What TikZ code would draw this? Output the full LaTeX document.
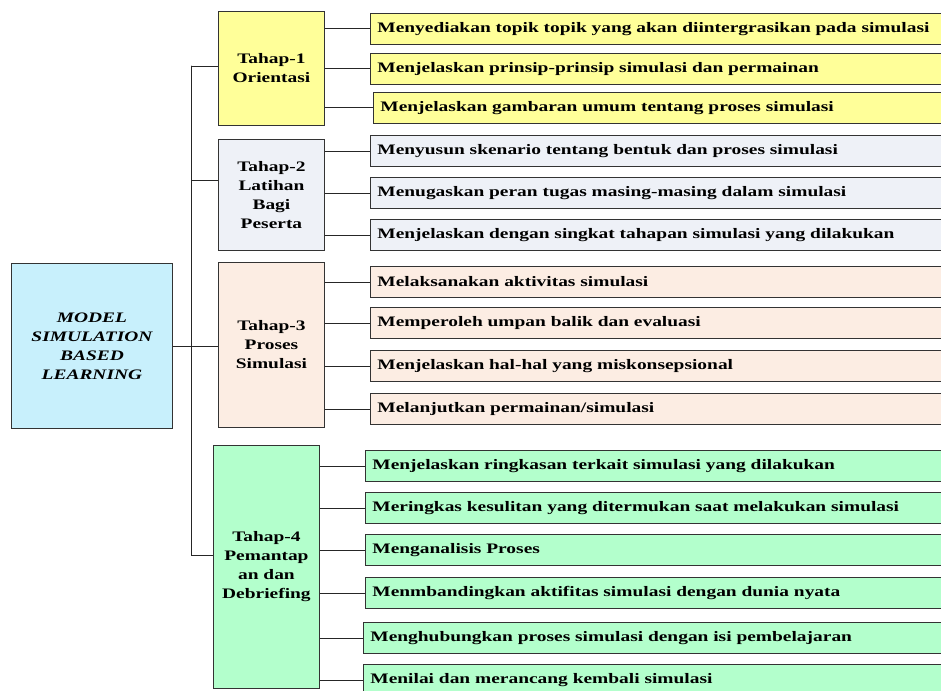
\documentclass[tikz,border=0pt]{standalone}
\usepackage{fontspec}
\setmainfont[FakeStretch=1.34]{Liberation Serif}
\usepackage{tkz-euclide}
\tikzset{>=stealth}
\definecolor{orikuning}{HTML}{FFFF99}
\definecolor{latabu}{HTML}{EEF1F7}
\definecolor{prosoranye}{HTML}{FCEDE3}
\definecolor{debhijau}{HTML}{B3FFCC}
\definecolor{modelbiru}{HTML}{C8F0FC}
\tikzset{
  box/.style={draw=black!80, line width=0.9pt, anchor=north west, inner sep=0pt,
    font=\fontsize{14.5}{19}\selectfont\bfseries},
  stagebox/.style={box, align=center, minimum width=106pt},
  itembox/.style={box, text width=580pt, align=left, inner xsep=7pt, minimum height=31pt},
  link/.style={line width=0.9pt, draw=black!85},
}

\begin{document}
\begin{tikzpicture}[x=1pt, y=-1pt]
    \useasboundingbox (0,0) rectangle (941,690);
    \node[box, align=center, fill=modelbiru, minimum width=161pt, minimum height=165pt,
      font=\fontsize{14.5}{19}\selectfont\bfseries\itshape] (model) at (11,263)
      {MODEL\\SIMULATION\\BASED\\LEARNING};
    \node[stagebox, fill=orikuning, minimum height=114pt] (t1) at (218,11) {Tahap-1\\Orientasi};
    \node[stagebox, fill=latabu, minimum height=111pt] (t2) at (218,139) {Tahap-2\\Latihan\\Bagi\\Peserta};
    \node[stagebox, fill=prosoranye, minimum height=165pt] (t3) at (218,262) {Tahap-3\\Proses\\Simulasi};
    \node[stagebox, fill=debhijau, minimum height=243pt] (t4) at (213,445) {Tahap-4\\Pemantap\\an dan\\Debriefing};
    % Tahap-1
    \node[itembox, fill=orikuning] (r1) at (370,13) {Menyediakan topik topik yang akan diintergrasikan pada simulasi};
    \node[itembox, fill=orikuning] (r2) at (370,53) {Menjelaskan prinsip-prinsip simulasi dan permainan};
    \node[itembox, fill=orikuning] (r3) at (373,92) {Menjelaskan gambaran umum tentang proses simulasi};
    % Tahap-2
    \node[itembox, fill=latabu] (r4) at (370,135) {Menyusun skenario tentang bentuk dan proses simulasi};
    \node[itembox, fill=latabu] (r5) at (370,177) {Menugaskan peran tugas masing-masing dalam simulasi};
    \node[itembox, fill=latabu] (r6) at (370,219) {Menjelaskan dengan singkat tahapan simulasi yang dilakukan};
    % Tahap-3
    \node[itembox, fill=prosoranye] (r7) at (370,266) {Melaksanakan aktivitas simulasi};
    \node[itembox, fill=prosoranye] (r8) at (370,307) {Memperoleh umpan balik dan evaluasi};
    \node[itembox, fill=prosoranye] (r9) at (370,350) {Menjelaskan hal-hal yang miskonsepsional};
    \node[itembox, fill=prosoranye] (r10) at (370,393) {Melanjutkan permainan/simulasi};
    % Tahap-4
    \node[itembox, fill=debhijau] (r11) at (365,450) {Menjelaskan ringkasan terkait simulasi yang dilakukan};
    \node[itembox, fill=debhijau] (r12) at (365,492) {Meringkas kesulitan yang ditermukan saat melakukan simulasi};
    \node[itembox, fill=debhijau] (r13) at (365,534) {Menganalisis Proses};
    \node[itembox, fill=debhijau] (r14) at (365,577) {Menmbandingkan aktifitas simulasi dengan dunia nyata};
    \node[itembox, fill=debhijau] (r15) at (363,622) {Menghubungkan proses simulasi dengan isi pembelajaran};
    \node[itembox, fill=debhijau] (r16) at (363,664) {Menilai dan merancang kembali simulasi};

    \tkzDefPoints{191/66/s1, 191/180/s2, 191/555/s4}
    \tkzDrawSegments[link](s1,s4)
    \draw[link] (s1) -- (s1 -| t1.west);
    \draw[link] (s2) -- (s2 -| t2.west);
    \draw[link] (model.east) -- (model.east -| t3.west);
    \draw[link] (s4) -- (s4 -| t4.west);
    \draw[link] (r1.west) -- (r1.west -| t1.east);
    \draw[link] (r2.west) -- (r2.west -| t1.east);
    \draw[link] (r3.west) -- (r3.west -| t1.east);
    \draw[link] (r4.west) -- (r4.west -| t2.east);
    \draw[link] (r5.west) -- (r5.west -| t2.east);
    \draw[link] (r6.west) -- (r6.west -| t2.east);
    \draw[link] (r7.west) -- (r7.west -| t3.east);
    \draw[link] (r8.west) -- (r8.west -| t3.east);
    \draw[link] (r9.west) -- (r9.west -| t3.east);
    \draw[link] (r10.west) -- (r10.west -| t3.east);
    \draw[link] (r11.west) -- (r11.west -| t4.east);
    \draw[link] (r12.west) -- (r12.west -| t4.east);
    \draw[link] (r13.west) -- (r13.west -| t4.east);
    \draw[link] (r14.west) -- (r14.west -| t4.east);
    \draw[link] (r15.west) -- (r15.west -| t4.east);
    \draw[link] (r16.west) -- (r16.west -| t4.east);
\end{tikzpicture}
\end{document}
